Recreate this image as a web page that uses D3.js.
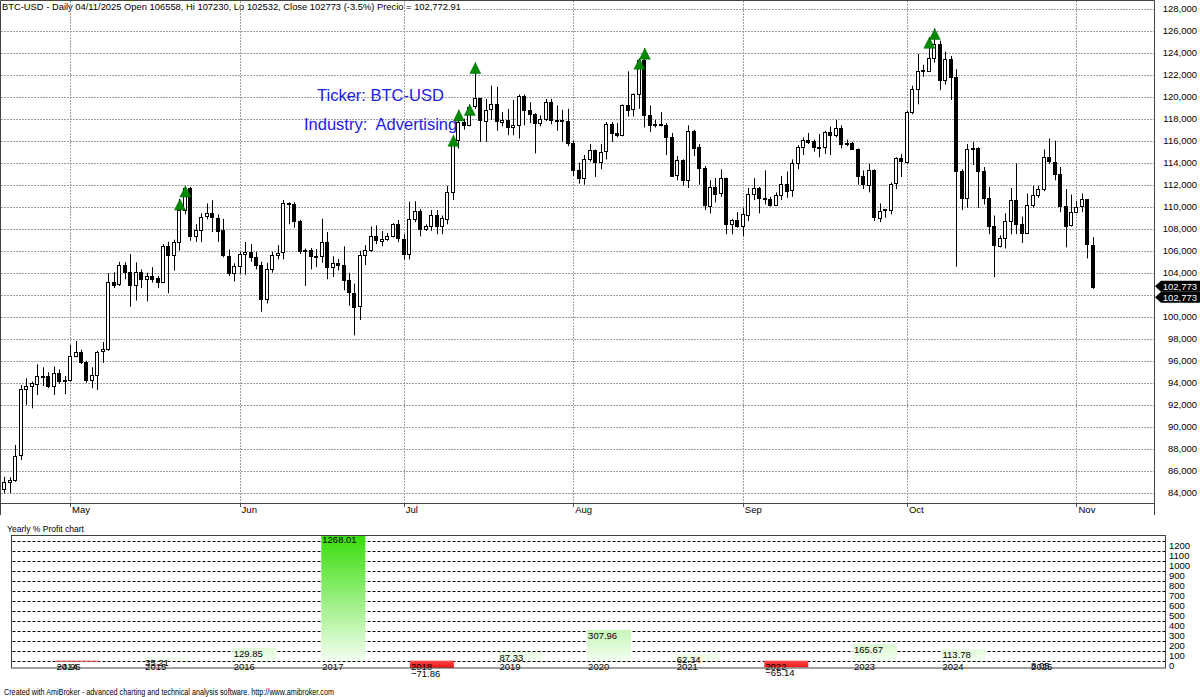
<!DOCTYPE html>
<html>
<head>
<meta charset="utf-8">
<script src="https://cdn.jsdelivr.net/npm/d3@7"></script>
<style>
  body { margin: 0; background: #fff; }
  svg text { font-family: "Liberation Sans", Arial, sans-serif; }
</style>
</head>
<body>
<div id="chart"></div>
<script>
// ---------------------------//
//       DATA                 //
// ---------------------------//

// BTC-USD daily bars, 19 Apr 2025 .. 4 Nov 2025 (one bar per day)
var firstDay = new Date(Date.UTC(2025, 3, 19)),
    lastDay = new Date(Date.UTC(2025, 10, 4));

var openP = [
  84340,84950,85150,87370,93400,93700,93950,94640,94600,93730,
  94910,94180,94250,96430,96820,95910,94250,94700,96830,97050,
  103180,102950,104700,104090,102880,104090,103490,103740,103490,103110,
  106420,105610,106760,109670,111670,107290,107880,109100,109400,109000,
  107850,105550,104000,104600,105670,105850,105400,104700,101580,104300,
  105600,105820,110300,110250,108690,105930,106040,105480,105530,106800,
  104550,104900,104700,103300,102200,100960,105580,106050,107300,106950,
  107100,107350,108400,107100,105700,108850,109600,108000,108230,109250,
  108260,108950,111360,116060,117700,117420,119100,119840,117800,118800,
  119300,117750,117920,117300,117440,120100,118800,118400,117600,117950,
  119500,117900,117850,117800,115760,113300,112600,114300,115150,114100,
  115000,117500,116670,116500,119250,118800,120200,123300,118300,117400,
  117500,117400,116300,112800,114200,112400,116900,115400,113500,110100,
  111800,111200,112600,108400,108800,108250,109300,111200,111700,110750,
  110700,110200,111100,112100,111500,114000,115450,116100,115950,115400,
  115450,116800,116500,117150,115700,115750,115250,112750,112000,113350,
  109050,109650,109750,112100,114400,114100,118650,120700,122300,122400,
  123550,124800,121500,123400,121750,113200,110750,115200,115300,113200,
  110750,108200,106450,107200,108700,110600,108450,107600,110150,111050,
  111600,114500,114100,113000,110100,108300,109500,110000,110670,106558
];
var highP = [
  85450,85400,88340,93790,94400,94100,95670,95400,94950,95460,
  95200,94600,97430,97790,97000,96000,95400,96900,97700,103950,
  104050,104990,104950,105700,104940,104300,104000,104500,103700,106600,
  106820,107000,110700,111880,111800,108400,109400,110300,110600,109300,
  108900,106100,104850,105900,106800,106600,105900,105000,104900,105900,
  106500,110600,110400,110400,108800,106200,106250,106150,108900,107700,
  105500,105250,106400,104000,103000,106000,106500,108200,108300,107800,
  107600,108500,108800,107500,110450,110500,109800,108400,109700,109700,
  109200,111900,116500,118800,118000,119300,123100,119900,119800,121000,
  120900,118600,118900,119700,120200,120200,119500,118500,118300,119800,
  119800,119200,118800,118900,116000,114000,114700,115700,115200,115700,
  117700,117700,117600,119300,122300,120300,123500,124400,119200,117900,
  118600,117600,116700,114600,114300,117400,117000,115700,113700,112400,
  112600,113400,112650,108900,109500,109900,111700,112600,111800,113300,
  110900,111300,112800,113200,114300,115600,116300,116700,116100,116600,
  116900,117300,117900,117400,116100,115900,115300,113300,113900,113400,
  110300,109800,112200,114500,114800,118700,121000,123900,122900,125400,
  126200,125100,124100,123700,122500,113400,115700,115900,115400,113600,
  111800,109200,107400,109400,111700,113950,109100,111200,111900,111900,
  115200,116200,116000,113600,111600,111100,110500,111200,110700,107230
];
var lowP = [
  83950,83950,85000,86980,91980,91670,92880,93700,93500,92880,
  93900,92950,94100,96300,95700,94000,93500,93340,95800,96900,
  102600,102800,103400,100910,101470,102600,101400,103100,102600,103100,
  102130,104200,106000,109300,106900,106800,106800,108850,107700,106800,
  105400,103700,103200,103900,103800,105000,104300,100450,101200,104000,
  105200,105200,108400,108080,105700,102800,104300,104500,104900,103400,
  103600,104200,102400,101000,98300,99700,104700,105900,106600,106400,
  106900,107200,106800,105200,105200,108600,107300,107800,107800,107500,
  107500,108400,110600,115300,117000,117300,118900,115900,115900,117900,
  116900,117300,116500,116500,116200,117400,117600,114850,117300,117800,
  117500,116900,115900,115500,112800,112100,112000,114100,112700,113400,
  114300,115900,116300,116400,118200,118200,118900,117200,116800,117200,
  117300,114700,112700,112400,111900,111700,114600,112000,109700,109400,
  110400,110900,107500,107500,108100,107300,108700,110600,109400,110200,
  110000,110100,110600,110800,110900,113400,114700,115700,115000,114500,
  114800,114700,116300,115300,115500,115200,112000,111600,111300,108700,
  108600,109000,109300,111600,112700,113900,118400,119300,121800,122300,
  123100,120600,121100,119700,104550,109700,109900,113800,109900,110200,
  107500,103600,106300,106200,107500,107500,106700,107500,109900,110800,
  111400,113900,112400,109500,106300,108200,109400,109500,105300,102532
];
var closeP = [
  84950,85150,87370,93400,93700,93950,94640,94600,93730,94910,
  94180,94250,96430,96820,95910,94250,94700,96830,97050,103180,
  102950,104700,104090,102880,104090,103490,103740,103490,103110,106420,
  105610,106760,109670,111670,107290,107880,109100,109400,109000,107850,
  105550,104000,104600,105670,105850,105400,104700,101580,104300,105600,
  105820,110300,110250,108690,105930,106040,105480,105530,106800,104550,
  104900,104700,103300,102200,100960,105580,106050,107300,106950,107100,
  107350,108400,107100,105700,108850,109600,108000,108230,109250,108260,
  108950,111360,116060,117700,117420,119100,119840,117800,118800,119300,
  117750,117920,117300,117440,120100,118800,118400,117600,117950,119500,
  117900,117850,117800,115760,113300,112600,114300,115150,114100,115000,
  117500,116670,116500,119250,118800,120200,123300,118300,117400,117500,
  117400,116300,112800,114200,112400,116900,115400,113500,110100,111800,
  111200,112600,108400,108800,108250,109300,111200,111700,110750,110700,
  110200,111100,112100,111500,114000,115450,116100,115950,115400,115450,
  116800,116500,117150,115700,115750,115250,112750,112000,113350,109050,
  109650,109750,112100,114400,114100,118650,120700,122300,122400,123550,
  124800,121500,123400,121750,113200,110750,115200,115300,113200,110750,
  108200,106450,107200,108700,110600,108450,107600,110150,111050,111600,
  114500,114100,113000,110100,108300,109500,110000,110670,106558,102773
];

// days with an up arrow (new high)
var signalDays = ["2025-05-21","2025-05-22","2025-07-10","2025-07-11","2025-07-13",
                  "2025-07-14","2025-08-13","2025-08-14","2025-10-05","2025-10-06"];

// yearly % profit panel
var years = [2014,2015,2016,2017,2018,2019,2020,2021,2022,2023,2024,2025];
var yearlyProfit = [-4.96,35.21,129.85,1268.01,-71.86,87.33,307.96,62.34,-65.14,165.67,113.78,8.05];
var profitTicks = [0,100,200,300,400,500,600,700,800,900,1000,1100,1200];

var headerText = "BTC-USD - Daily 04/11/2025 Open 106558, Hi 107230, Lo 102532, Close 102773 (-3.5%) Precio = 102,772.91";
var lastClose = 102773;

var days = d3.utcDay.range(firstDay, d3.utcDay.offset(lastDay, 1));
var bars = days.map(function(d, i) {
  return {date: d, o: openP[i], h: highP[i], l: lowP[i], c: closeP[i]};
});

// ---------------------------//
//       SVG                  //
// ---------------------------//
var W = 1200, H = 697;
var svg = d3.select("#chart").append("svg")
    .attr("width", W)
    .attr("height", H);
svg.append("rect").attr("width", W).attr("height", H).attr("fill", "#fff");

var paneRight = 1154, paneBottom = 503.5;

// scales
var x = d3.scaleUtc()
    .domain([firstDay, lastDay])
    .range([4.4, 1092.9]);
var y = d3.scaleLinear()
    .domain([84000, 128000])
    .range([492.7, 8.7]);
var snap = function(v) { return Math.round(v) + 0.5; };

var priceTicks = d3.range(84000, 128001, 2000);
var months = d3.utcMonth.range(d3.utcMonth.ceil(firstDay), lastDay);

// horizontal grid
svg.append("g").selectAll("line")
  .data(priceTicks)
  .enter().append("line")
    .attr("x1", 1).attr("x2", paneRight)
    .attr("y1", function(d) { return snap(y(d)); })
    .attr("y2", function(d) { return snap(y(d)); })
    .attr("stroke", "#a0a0a0")
    .attr("stroke-dasharray", "2,1");

// header background + text
var header = svg.append("text")
    .attr("x", 2).attr("y", 9.5)
    .attr("font-size", "9.5px")
    .attr("fill", "#000")
    .attr("textLength", 459)
    .attr("lengthAdjust", "spacingAndGlyphs")
    .text(headerText);
svg.insert("rect", "text")
    .attr("x", 1).attr("y", 1).attr("width", 462).attr("height", 11)
    .attr("fill", "#fff");

// vertical grid at month starts
svg.append("g").selectAll("line")
  .data(months)
  .enter().append("line")
    .attr("x1", function(d) { return snap(x(d)); })
    .attr("x2", function(d) { return snap(x(d)); })
    .attr("y1", 1).attr("y2", paneBottom)
    .attr("stroke", "#a0a0a0")
    .attr("stroke-dasharray", "2,1");

// month ticks + labels
svg.append("g").selectAll("line")
  .data(months)
  .enter().append("line")
    .attr("x1", function(d) { return snap(x(d)); })
    .attr("x2", function(d) { return snap(x(d)); })
    .attr("y1", paneBottom).attr("y2", 507)
    .attr("stroke", "#555");
svg.append("g").selectAll("text")
  .data(months)
  .enter().append("text")
    .attr("x", function(d) { return x(d) + 2; })
    .attr("y", 513)
    .attr("font-size", "9.5px")
    .text(d3.utcFormat("%b"));

// price axis labels
svg.append("g").selectAll("text")
  .data(priceTicks)
  .enter().append("text")
    .attr("x", 1197)
    .attr("y", function(d) { return y(d); })
    .attr("dy", "0.35em")
    .attr("text-anchor", "end")
    .attr("font-size", "9.5px")
    .text(d3.format(",")) ;

// ---------------------------//
//       CANDLES              //
// ---------------------------//
var candles = svg.append("g");
candles.selectAll("line")
  .data(bars)
  .enter().append("line")
    .attr("x1", function(d) { return snap(x(d.date)); })
    .attr("x2", function(d) { return snap(x(d.date)); })
    .attr("y1", function(d) { return y(d.h); })
    .attr("y2", function(d) { return y(d.l); })
    .attr("stroke", "#000");
candles.selectAll("rect")
  .data(bars)
  .enter().append("rect")
    .attr("x", function(d) { return Math.round(x(d.date)) - 1.5; })
    .attr("y", function(d) { return Math.round(y(Math.max(d.o, d.c))) + 0.5; })
    .attr("width", 3)
    .attr("height", function(d) { return Math.max(1, Math.round(Math.abs(y(d.o) - y(d.c)))); })
    .attr("fill", function(d) { return d.c >= d.o ? "#fff" : "#000"; })
    .attr("stroke", "#000");

// up arrows (tip sits on the bar high)
var signals = bars.filter(function(d) {
  return signalDays.indexOf(d3.utcFormat("%Y-%m-%d")(d.date)) >= 0;
});
svg.append("g").selectAll("path")
  .data(signals)
  .enter().append("path")
    .attr("d", function(d) {
      var cx = x(d.date) + 0.5, t = y(d.h);
      return "M" + cx + "," + t + "L" + (cx + 5.5) + "," + (t + 11) + "L" + (cx - 5.5) + "," + (t + 11) + "Z";
    })
    .attr("fill", "#008a00")
    .attr("stroke", "#006400")
    .attr("stroke-width", 0.5);

// ticker / industry note
svg.append("text")
    .attr("x", 317).attr("y", 100.7)
    .attr("font-size", "16.5px")
    .attr("fill", "#2020e6")
    .style("white-space", "pre")
    .text("Ticker: BTC-USD");
svg.append("text")
    .attr("x", 304).attr("y", 129.5)
    .attr("font-size", "16.5px")
    .attr("fill", "#2020e6")
    .style("white-space", "pre")
    .text("Industry:  Advertising");

// pane frame
svg.append("path")
    .attr("d", "M0.5,515 V0.5 H" + (paneRight + 0.5) + " V515 M0.5," + paneBottom + " H" + (paneRight + 0.5))
    .attr("fill", "none")
    .attr("stroke", "#444");

// last price markers
[0, 11].forEach(function(off) {
  var yc = y(lastClose) + off;
  svg.append("path")
      .attr("d", "M1155," + yc + " L1161," + (yc - 5.5) + " H1200 V" + (yc + 5.5) + " H1161 Z")
      .attr("fill", "#000");
  svg.append("text")
      .attr("x", 1197).attr("y", yc).attr("dy", "0.35em")
      .attr("text-anchor", "end")
      .attr("font-size", "9.5px")
      .attr("fill", "#fff")
      .text(d3.format(",")(lastClose));
});

// ---------------------------//
//   YEARLY % PROFIT PANEL    //
// ---------------------------//
var boxL = 11.5, boxR = 1165.5, boxT = 535.5, boxB = 668;
var xl = d3.scaleLinear().domain([2014, 2025]).range([55.5, 1030.1]);
var yl = d3.scaleLinear().domain([0, 1200]).range([660.7, 540.7]);
var barW = 44;

svg.append("text")
    .attr("x", 7).attr("y", 531.5)
    .attr("font-size", "9.5px")
    .attr("textLength", 77)
    .attr("lengthAdjust", "spacingAndGlyphs")
    .text("Yearly % Profit chart");

var defs = svg.append("defs");
var gUp = defs.append("linearGradient")
    .attr("id", "gUp").attr("gradientUnits", "userSpaceOnUse")
    .attr("x1", 0).attr("x2", 0).attr("y1", yl(0)).attr("y2", yl(1300));
gUp.append("stop").attr("offset", 0).attr("stop-color", "#f4fff0");
gUp.append("stop").attr("offset", 1).attr("stop-color", "#30dc00");
var gDn = defs.append("linearGradient")
    .attr("id", "gDn").attr("gradientUnits", "userSpaceOnUse")
    .attr("x1", 0).attr("x2", 0).attr("y1", yl(0)).attr("y2", yl(-75));
gDn.append("stop").attr("offset", 0).attr("stop-color", "#ff4a4a");
gDn.append("stop").attr("offset", 1).attr("stop-color", "#f01010");
defs.append("clipPath").attr("id", "boxClip")
  .append("rect").attr("x", boxL).attr("y", boxT).attr("width", boxR - boxL).attr("height", boxB - boxT);

svg.append("g").selectAll("line")
  .data(profitTicks)
  .enter().append("line")
    .attr("x1", boxL + 1).attr("x2", boxR)
    .attr("y1", function(d) { return snap(yl(d)); })
    .attr("y2", function(d) { return snap(yl(d)); })
    .attr("stroke", "#000")
    .attr("stroke-dasharray", "3,2");

var yearly = years.map(function(yr, i) { return {year: yr, v: yearlyProfit[i]}; });

svg.append("g").attr("clip-path", "url(#boxClip)")
  .selectAll("rect")
  .data(yearly)
  .enter().append("rect")
    .attr("x", function(d) { return xl(d.year); })
    .attr("y", function(d) { return d.v >= 0 ? yl(d.v) : yl(0); })
    .attr("width", barW)
    .attr("height", function(d) { return Math.max(1, Math.abs(yl(d.v) - yl(0))); })
    .attr("fill", function(d) { return d.v >= 0 ? "url(#gUp)" : "url(#gDn)"; });

// year labels under zero line
svg.append("g").selectAll("text")
  .data(yearly)
  .enter().append("text")
    .attr("x", function(d) { return xl(d.year) + 1; })
    .attr("y", yl(0) + 8.8)
    .attr("font-size", "9.5px")
    .text(function(d) { return d.year; });

// value labels, hanging from the bar end
svg.append("g").selectAll("text")
  .data(yearly)
  .enter().append("text")
    .attr("x", function(d) { return xl(d.year) + 1; })
    .attr("y", function(d) { return Math.max(yl(d.v), boxT - 1.5) + 8.8; })
    .attr("font-size", "9.5px")
    .text(function(d) { return d3.format(".2f")(d.v); });

// right axis of the panel
svg.append("g").selectAll("text")
  .data(profitTicks)
  .enter().append("text")
    .attr("x", 1169)
    .attr("y", function(d) { return yl(d) + 5; })
    .attr("dy", "0.35em")
    .attr("font-size", "9.5px")
    .text(function(d) { return d; });

svg.append("rect")
    .attr("x", boxL).attr("y", boxT)
    .attr("width", boxR - boxL).attr("height", boxB - boxT)
    .attr("fill", "none")
    .attr("stroke", "#404040");

// footer
svg.append("text")
    .attr("x", 4).attr("y", 695)
    .attr("font-size", "8.5px")
    .attr("textLength", 330)
    .attr("lengthAdjust", "spacingAndGlyphs")
    .text("Created with AmiBroker - advanced charting and technical analysis software. http://www.amibroker.com");
</script>
</body>
</html>
